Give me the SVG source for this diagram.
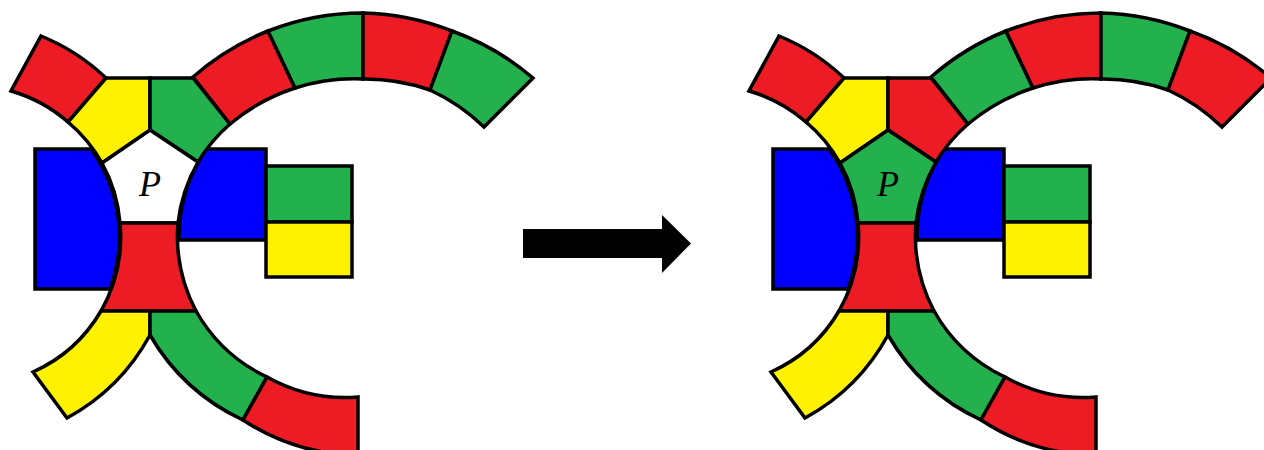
<svg xmlns="http://www.w3.org/2000/svg" width="1264" height="450" viewBox="0 0 1264 450">
<style>
.s{stroke:#000;stroke-width:3.5;stroke-linejoin:miter}
.r{fill:#ed1c24}.g{fill:#22b14c}.y{fill:#fff200}.b{fill:#0000ff}.w{fill:#fff}
.lbl{font-family:"Liberation Serif","Times New Roman",serif;font-style:italic;font-size:36px;fill:#000}
</style>
<g id="before">
  <g id="L-blue-left"><path class="s b" d="M35,149 L91,149 A150,150 0 0 1 110,289 L35,289 Z"/></g>
  <g id="L-blue-right"><path class="s b" d="M206,149 L266,149 L266,240 L179,240 A160,160 0 0 1 206,149 Z"/></g>
  <g id="L-sq-green"><rect class="s g" x="266" y="166" width="86" height="56"/></g>
  <g id="L-sq-yellow"><rect class="s y" x="266" y="222" width="86" height="55"/></g>
  <g id="L-tl-red"><path class="s r" d="M41,36 A207,207 0 0 1 106,78 L68,122 A150,150 0 0 0 11,91 Z"/></g>
  <g id="L-top-yellow"><path class="s y" d="M106,78 L150,78 L150,130 L102,163 A150,150 0 0 0 68,122 Z"/></g>
  <g id="L-top-green"><path class="s g" d="M150,78 L193,78 L230,124 A160,160 0 0 0 198,162 L150,130 Z"/></g>
  <g id="L-pentagon"><path class="s w" d="M150,130 L198,162 A160,160 0 0 0 178,223 L120,223 A150,150 0 0 0 102,163 Z"/>
    <text class="lbl" x="150" y="196" text-anchor="middle">P</text></g>
  <g id="L-mid-red"><path class="s r" d="M120,223 L178,223 A160,160 0 0 0 196,311 L101,311 A150,150 0 0 0 120,223 Z"/></g>
  <g id="L-arc1"><path class="s r" d="M193,77 A258,258 0 0 1 268,31 L295,88 A196,196 0 0 0 230,124 Z"/></g>
  <g id="L-arc2"><path class="s g" d="M268,31 A258,258 0 0 1 363,13 L363,79 A196,196 0 0 0 295,88 Z"/></g>
  <g id="L-arc3"><path class="s r" d="M363,13 A258,258 0 0 1 452,31 L430,90 A196,196 0 0 0 363,79 Z"/></g>
  <g id="L-arc4"><path class="s g" d="M452,31 A258,258 0 0 1 533,78 L484,127 A196,196 0 0 0 430,90 Z"/></g>
  <g id="L-bot-yellow"><path class="s y" d="M101,311 L150,311 L150,335 A207,207 0 0 1 67,418 L33,372 A150,150 0 0 0 101,311 Z"/></g>
  <g id="L-bot-green"><path class="s g" d="M150,311 L196,311 A160,160 0 0 0 267,377 L243,420 A210,210 0 0 1 150,335 Z"/></g>
  <g id="L-bot-red"><path class="s r" d="M267,377 A160,160 0 0 0 358,397 L358,455 A212,212 0 0 1 243,420 Z"/></g>
</g>
<g id="connectors">
  <polygon id="arrow" fill="#000" points="523,229 662,229 662,215 691,243.5 662,273 662,258 523,258"/>
</g>
<g id="after" transform="translate(738,0)">
  <g id="R-blue-left"><path class="s b" d="M35,149 L91,149 A150,150 0 0 1 110,289 L35,289 Z"/></g>
  <g id="R-blue-right"><path class="s b" d="M206,149 L266,149 L266,240 L179,240 A160,160 0 0 1 206,149 Z"/></g>
  <g id="R-sq-green"><rect class="s g" x="266" y="166" width="86" height="56"/></g>
  <g id="R-sq-yellow"><rect class="s y" x="266" y="222" width="86" height="55"/></g>
  <g id="R-tl-red"><path class="s r" d="M41,36 A207,207 0 0 1 106,78 L68,122 A150,150 0 0 0 11,91 Z"/></g>
  <g id="R-top-yellow"><path class="s y" d="M106,78 L150,78 L150,130 L102,163 A150,150 0 0 0 68,122 Z"/></g>
  <g id="R-top-red"><path class="s r" d="M150,78 L193,78 L230,124 A160,160 0 0 0 198,162 L150,130 Z"/></g>
  <g id="R-pentagon"><path class="s g" d="M150,130 L198,162 A160,160 0 0 0 178,223 L120,223 A150,150 0 0 0 102,163 Z"/>
    <text class="lbl" x="150" y="196" text-anchor="middle">P</text></g>
  <g id="R-mid-red"><path class="s r" d="M120,223 L178,223 A160,160 0 0 0 196,311 L101,311 A150,150 0 0 0 120,223 Z"/></g>
  <g id="R-arc1"><path class="s g" d="M193,77 A258,258 0 0 1 268,31 L295,88 A196,196 0 0 0 230,124 Z"/></g>
  <g id="R-arc2"><path class="s r" d="M268,31 A258,258 0 0 1 363,13 L363,79 A196,196 0 0 0 295,88 Z"/></g>
  <g id="R-arc3"><path class="s g" d="M363,13 A258,258 0 0 1 452,31 L430,90 A196,196 0 0 0 363,79 Z"/></g>
  <g id="R-arc4"><path class="s r" d="M452,31 A258,258 0 0 1 533,78 L484,127 A196,196 0 0 0 430,90 Z"/></g>
  <g id="R-bot-yellow"><path class="s y" d="M101,311 L150,311 L150,335 A207,207 0 0 1 67,418 L33,372 A150,150 0 0 0 101,311 Z"/></g>
  <g id="R-bot-green"><path class="s g" d="M150,311 L196,311 A160,160 0 0 0 267,377 L243,420 A210,210 0 0 1 150,335 Z"/></g>
  <g id="R-bot-red"><path class="s r" d="M267,377 A160,160 0 0 0 358,397 L358,455 A212,212 0 0 1 243,420 Z"/></g>
</g>
</svg>
